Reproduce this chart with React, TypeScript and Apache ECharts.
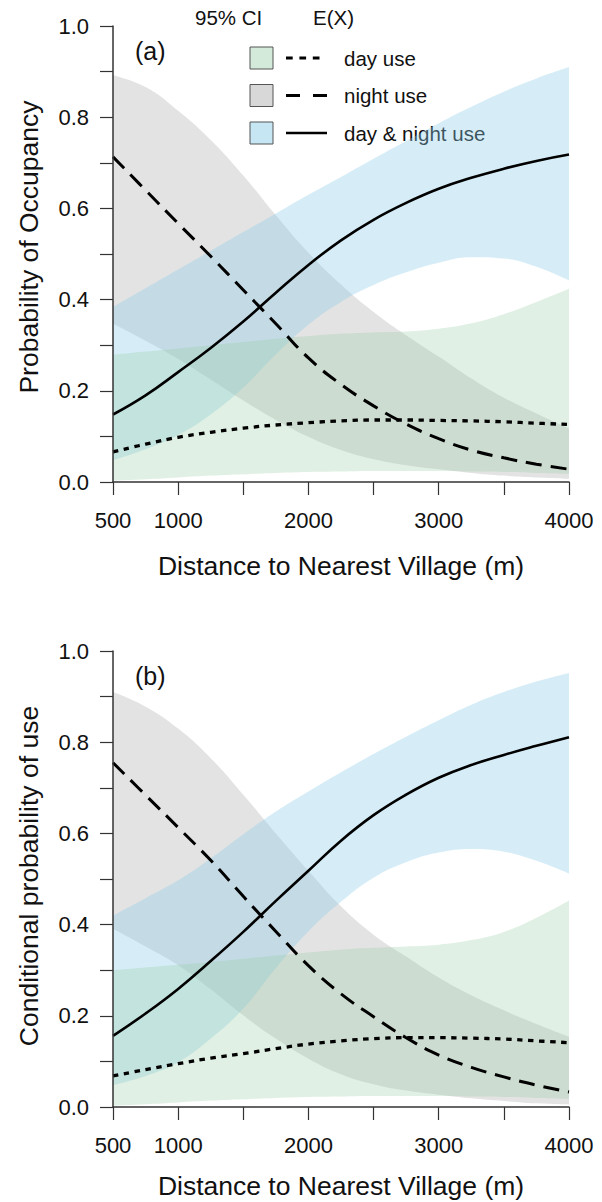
import React, { useEffect, useRef } from 'react';
import * as echarts from 'echarts';

const FONT = '"Liberation Sans", Arial, Helvetica, sans-serif';

// Distance to nearest village (m)
const distances = [500, 750, 1000, 1250, 1500, 1750, 2000, 2250, 2500, 2750, 3000, 3250, 3500, 3750, 4000];
const xTickLabels = [500, 1000, 2000, 3000, 4000];
const yTickLabels = ['0.0', '0.2', '0.4', '0.6', '0.8', '1.0'];

// Panel (a): Probability of Occupancy
const aDayMean = [0.066, 0.083, 0.098, 0.109, 0.118, 0.125, 0.130, 0.134, 0.136, 0.136, 0.135, 0.134, 0.132, 0.129, 0.126];
const aDayLow = [0.003, 0.006, 0.010, 0.014, 0.017, 0.020, 0.022, 0.023, 0.024, 0.024, 0.024, 0.023, 0.022, 0.020, 0.018];
const aDayHigh = [0.279, 0.286, 0.293, 0.300, 0.307, 0.314, 0.320, 0.325, 0.328, 0.330, 0.336, 0.348, 0.368, 0.395, 0.424];
const aNightMean = [0.713, 0.640, 0.567, 0.495, 0.421, 0.347, 0.272, 0.214, 0.167, 0.127, 0.095, 0.070, 0.053, 0.039, 0.028];
const aNightLow = [0.347, 0.310, 0.270, 0.225, 0.179, 0.136, 0.099, 0.070, 0.050, 0.037, 0.028, 0.020, 0.014, 0.010, 0.007];
const aNightHigh = [0.892, 0.866, 0.814, 0.750, 0.672, 0.585, 0.503, 0.433, 0.373, 0.322, 0.275, 0.227, 0.185, 0.150, 0.117];
const aBothMean = [0.148, 0.190, 0.241, 0.294, 0.352, 0.415, 0.476, 0.530, 0.575, 0.612, 0.643, 0.667, 0.687, 0.704, 0.718];
const aBothLow = [0.048, 0.072, 0.103, 0.148, 0.207, 0.280, 0.345, 0.395, 0.432, 0.460, 0.481, 0.493, 0.490, 0.472, 0.442];
const aBothHigh = [0.384, 0.425, 0.466, 0.507, 0.548, 0.589, 0.630, 0.669, 0.709, 0.748, 0.787, 0.823, 0.856, 0.885, 0.910];

// Panel (b): Conditional probability of use
const bDayMean = [0.068, 0.082, 0.095, 0.107, 0.117, 0.128, 0.138, 0.145, 0.150, 0.152, 0.152, 0.151, 0.149, 0.145, 0.141];
const bDayLow = [0.003, 0.006, 0.010, 0.014, 0.017, 0.020, 0.022, 0.023, 0.024, 0.024, 0.024, 0.023, 0.022, 0.020, 0.018];
const bDayHigh = [0.300, 0.306, 0.312, 0.318, 0.325, 0.332, 0.339, 0.345, 0.349, 0.352, 0.356, 0.366, 0.384, 0.415, 0.453];
const bNightMean = [0.755, 0.684, 0.613, 0.541, 0.462, 0.385, 0.310, 0.248, 0.198, 0.152, 0.114, 0.087, 0.066, 0.048, 0.033];
const bNightLow = [0.391, 0.352, 0.311, 0.258, 0.201, 0.150, 0.106, 0.072, 0.050, 0.036, 0.027, 0.019, 0.013, 0.008, 0.005];
const bNightHigh = [0.910, 0.878, 0.830, 0.765, 0.685, 0.600, 0.518, 0.440, 0.378, 0.330, 0.284, 0.245, 0.212, 0.182, 0.154];
const bBothMean = [0.156, 0.205, 0.259, 0.320, 0.384, 0.452, 0.518, 0.584, 0.640, 0.685, 0.722, 0.750, 0.772, 0.792, 0.811];
const bBothLow = [0.048, 0.068, 0.098, 0.150, 0.216, 0.305, 0.385, 0.450, 0.503, 0.537, 0.558, 0.566, 0.560, 0.540, 0.512];
const bBothHigh = [0.420, 0.458, 0.497, 0.545, 0.598, 0.648, 0.692, 0.734, 0.774, 0.812, 0.848, 0.882, 0.910, 0.933, 0.952];

const legendNames = ['day use', 'night use', 'day & night use'];

const GREY_FILL = 'rgba(150,150,150,0.27)';
const BLUE_FILL = 'rgba(141,205,233,0.36)';
const GREEN_FILL = 'rgba(148,203,162,0.29)';

const DOT = [5.5, 5.5];
const DASH = [16, 9];
const SMOOTH = 0.45;

// bands drawn on hidden category axes (indices 2,3), evenly spaced like the value axis
function bandSeries(idx: number, key: string, lo: number[], hi: number[], color: string) {
  return [
    {
      type: 'line', xAxisIndex: idx + 2, yAxisIndex: idx, stack: key, smooth: SMOOTH,
      symbol: 'none', silent: true,
      lineStyle: { width: 0, opacity: 0 },
      data: lo,
    },
    {
      type: 'line', xAxisIndex: idx + 2, yAxisIndex: idx, stack: key, smooth: SMOOTH,
      symbol: 'none', silent: true,
      lineStyle: { width: 0, opacity: 0 },
      areaStyle: { color, opacity: 1 },
      data: hi.map((h, i) => h - lo[i]),
    },
  ];
}

function meanSeries(idx: number, vals: number[], dash: any, width: number) {
  return {
    type: 'line', xAxisIndex: idx, yAxisIndex: idx, smooth: SMOOTH,
    symbol: 'none', silent: true,
    lineStyle: { color: '#000', width, type: dash, cap: 'butt' },
    data: distances.map((x, i) => [x, vals[i]]),
  };
}

export default function App() {
  const ref = useRef<HTMLDivElement>(null);
  useEffect(() => {
    if (!ref.current) return;
    const chart = echarts.init(ref.current, null, { renderer: 'svg' });
    const axisColor = '#333';
    const xAxes: any[] = [0, 1].map((i) => ({
      type: 'value', gridIndex: i, min: 500, max: 4000, interval: 500,
      axisLine: { show: true, onZero: false, lineStyle: { color: axisColor, width: 1.5 } },
      axisTick: { show: true, length: 13, lineStyle: { color: axisColor, width: 1.2 } },
      axisLabel: {
        margin: 27, fontSize: 22, color: '#111', fontFamily: FONT,
        formatter: (v: number) => (xTickLabels.includes(v) ? String(v) : ''),
      },
      splitLine: { show: false },
      z: 5,
    }));
    [0, 1].forEach((i) => {
      xAxes.push({
        type: 'category', gridIndex: i, boundaryGap: false, data: distances.map(String),
        show: false,
      });
    });
    const yAxes = [0, 1].map((i) => ({
      type: 'value', gridIndex: i, min: 0, max: 1, interval: 0.1,
      axisLine: { show: true, onZero: false, lineStyle: { color: axisColor, width: 1.5 } },
      axisTick: { show: true, length: 13, lineStyle: { color: axisColor, width: 1.2 } },
      axisLabel: {
        margin: 24, fontSize: 22, color: '#111', fontFamily: FONT,
        formatter: (v: number) => {
          const s = v.toFixed(1);
          return yTickLabels.includes(s) ? s : '';
        },
      },
      splitLine: { show: false },
      z: 5,
    }));

    const series: any[] = [
      ...bandSeries(0, 'aNight', aNightLow, aNightHigh, GREY_FILL),
      ...bandSeries(0, 'aBoth', aBothLow, aBothHigh, BLUE_FILL),
      ...bandSeries(0, 'aDay', aDayLow, aDayHigh, GREEN_FILL),
      meanSeries(0, aDayMean, DOT, 3.3),
      meanSeries(0, aNightMean, DASH, 3),
      meanSeries(0, aBothMean, 'solid', 2.6),
      ...bandSeries(1, 'bNight', bNightLow, bNightHigh, GREY_FILL),
      ...bandSeries(1, 'bBoth', bBothLow, bBothHigh, BLUE_FILL),
      ...bandSeries(1, 'bDay', bDayLow, bDayHigh, GREEN_FILL),
      meanSeries(1, bDayMean, DOT, 3.3),
      meanSeries(1, bNightMean, DASH, 3),
      meanSeries(1, bBothMean, 'solid', 2.6),
    ];

    const txt = (text: string, x: number, y: number, size: number, extra: any = {}) => ({
      type: 'text', x, y, silent: true,
      style: { text, fontSize: size, fontFamily: FONT, fill: '#111', align: 'left', verticalAlign: 'middle', ...extra },
    });

    const boxFills = ['#d3eadb', '#d8d8d8', '#c6e6f4'];
    const rowY = [58, 95.5, 133];
    const legendGraphics: any[] = [];
    rowY.forEach((y, i) => {
      legendGraphics.push({
        type: 'rect', silent: true,
        shape: { x: 250, y: y - 11, width: 23, height: 22 },
        style: { fill: boxFills[i], stroke: '#555', lineWidth: 1 },
      });
      const dash = i === 0 ? [6.7, 6.7] : i === 1 ? [14, 13] : null;
      legendGraphics.push({
        type: 'line', silent: true,
        shape: { x1: 286, y1: y, x2: i === 0 ? 320 : 327, y2: y },
        style: { stroke: '#000', lineWidth: i === 2 ? 2.6 : 3.2, lineDash: dash },
      });
      legendGraphics.push(txt(legendNames[i], 344, y, 20.5));
    });

    const rot = { rotation: Math.PI / 2 };
    chart.setOption({
      animation: false,
      textStyle: { fontFamily: FONT },
      grid: [
        { left: 113, top: 26, width: 456, height: 456 },
        { left: 113, top: 651, width: 456, height: 456 },
      ],
      xAxis: xAxes,
      yAxis: yAxes,
      series,
      graphic: [
        txt('95% CI', 195, 17, 20.5),
        txt('E(X)', 313, 17, 20.5),
        ...legendGraphics,
        txt('(a)', 135, 51, 25),
        txt('(b)', 135, 676, 25),
        { ...txt('Probability of Occupancy', 29, 247, 26.5, { align: 'center' }), ...rot },
        { ...txt('Conditional probability of use', 29, 876, 26.5, { align: 'center' }), ...rot },
        txt('Distance to Nearest Village (m)', 341, 566, 26.5, { align: 'center' }),
        txt('Distance to Nearest Village (m)', 341, 1186, 26.5, { align: 'center' }),
      ],
    });
    return () => chart.dispose();
  }, []);
  return <div ref={ref} style={{ position: 'absolute', left: 0, top: 0, width: 602, height: 1202 }} />;
}
